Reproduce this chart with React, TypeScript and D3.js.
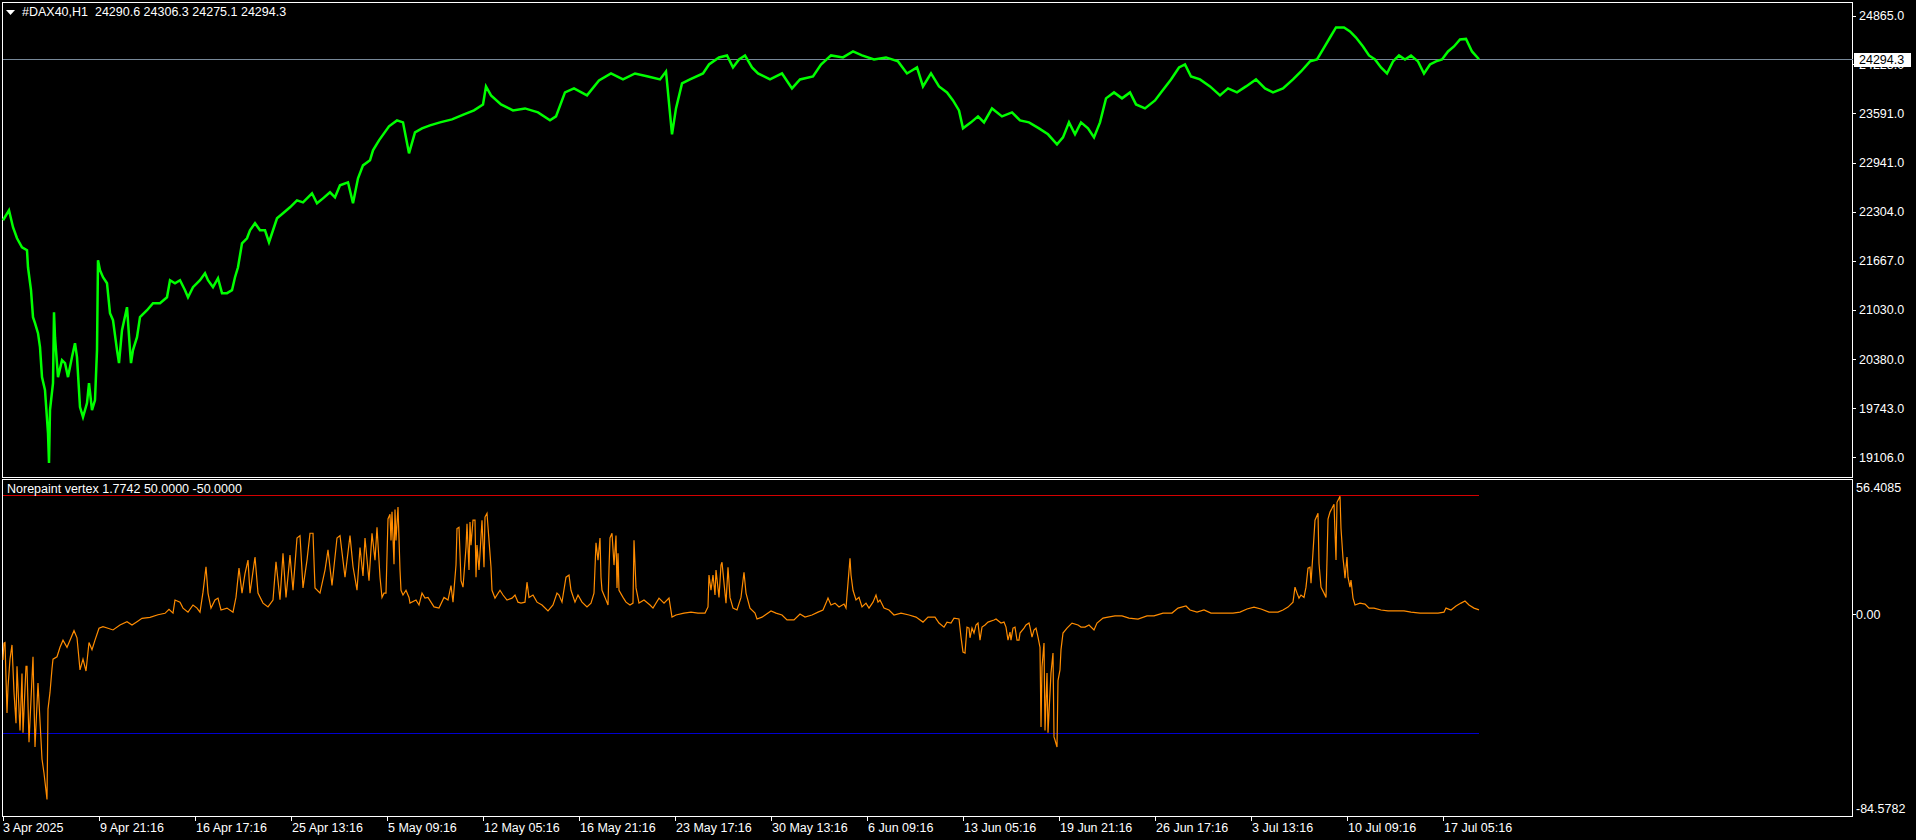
import React, { useEffect, useRef } from 'react'
import * as d3 from 'd3'

const W = 1916
const H = 840

const symbolTitle = '#DAX40,H1  24290.6 24306.3 24275.1 24294.3'
const oscTitle = 'Norepaint vertex 1.7742 50.0000 -50.0000'
const bidPrice = 24294.3

// [hour bar number, close]
const dax: [number, number][] = [
    [0, 22194], [6, 22324], [10, 22103], [14, 21959], [19, 21842], [24, 21803], [25, 21581], [28, 21282],
    [30, 20930], [32, 20852], [35, 20721], [37, 20539], [39, 20148], [42, 19979], [45, 19418], [46, 19027],
    [47, 19718], [50, 20070], [51, 20995], [52, 20669], [55, 20148], [59, 20370], [62, 20331], [65, 20148],
    [69, 20409], [72, 20591], [74, 20409], [77, 19757], [80, 19627], [84, 19809], [86, 20070], [89, 19718],
    [92, 19848], [94, 20500], [95, 21673], [97, 21542], [100, 21451], [104, 21373], [107, 20982], [110, 20891],
    [114, 20500], [116, 20331], [119, 20761], [124, 21060], [127, 20500], [128, 20331], [130, 20500], [134, 20669],
    [137, 20930], [144, 21021], [150, 21112], [157, 21112], [164, 21190], [167, 21412], [172, 21373], [177, 21412],
    [182, 21282], [185, 21190], [190, 21321], [197, 21412], [202, 21503], [205, 21412], [210, 21321], [215, 21438],
    [219, 21243], [224, 21243], [229, 21282], [232, 21451], [235, 21581], [239, 21894], [244, 21959], [247, 22064],
    [252, 22155], [257, 22064], [262, 22064], [266, 21907], [270, 22064], [274, 22220], [280, 22285], [287, 22363],
    [294, 22454], [300, 22428], [309, 22546], [314, 22415], [320, 22480], [327, 22559], [332, 22493], [337, 22650],
    [345, 22689], [350, 22415], [355, 22741], [360, 22910], [367, 22976], [370, 23106], [376, 23236], [386, 23419],
    [394, 23497], [400, 23471], [406, 23067], [412, 23340], [419, 23393], [427, 23432], [437, 23471], [449, 23510],
    [461, 23575], [471, 23627], [480, 23705], [483, 23940], [488, 23823], [498, 23705], [510, 23627], [522, 23653],
    [535, 23601], [547, 23497], [553, 23549], [562, 23862], [571, 23914], [584, 23823], [596, 24018], [608, 24109],
    [620, 24031], [632, 24109], [645, 24070], [657, 24031], [663, 24135], [669, 23315], [673, 23653], [679, 23979],
    [687, 24031], [700, 24109], [706, 24226], [716, 24318], [724, 24344], [730, 24187], [736, 24292], [742, 24344],
    [749, 24187], [755, 24109], [767, 24031], [779, 24109], [789, 23914], [797, 24031], [810, 24070], [818, 24226],
    [828, 24344], [840, 24318], [850, 24396], [859, 24344], [871, 24292], [883, 24318], [895, 24266], [904, 24109],
    [914, 24187], [920, 23940], [928, 24109], [936, 23940], [944, 23862], [950, 23757], [956, 23627], [960, 23393],
    [968, 23471], [975, 23549], [981, 23471], [989, 23653], [999, 23549], [1009, 23601], [1017, 23497], [1026, 23471],
    [1036, 23393], [1045, 23315], [1054, 23184], [1060, 23275], [1066, 23471], [1072, 23315], [1078, 23471], [1085, 23393],
    [1091, 23275], [1097, 23471], [1103, 23784], [1111, 23862], [1119, 23784], [1127, 23862], [1133, 23705], [1142, 23653],
    [1152, 23757], [1158, 23862], [1168, 24031], [1176, 24187], [1182, 24226], [1188, 24070], [1197, 24031], [1207, 23940],
    [1217, 23823], [1225, 23914], [1234, 23862], [1243, 23940], [1253, 24031], [1262, 23914], [1270, 23862], [1280, 23914],
    [1290, 24031], [1298, 24135], [1307, 24266], [1314, 24292], [1320, 24422], [1327, 24578], [1333, 24709], [1341, 24709],
    [1347, 24657], [1353, 24578], [1360, 24461], [1366, 24344], [1372, 24292], [1378, 24187], [1384, 24109], [1390, 24266],
    [1396, 24344], [1402, 24292], [1408, 24344], [1415, 24266], [1421, 24109], [1427, 24226], [1433, 24266], [1439, 24292],
    [1445, 24396], [1451, 24461], [1457, 24552], [1463, 24560], [1469, 24396], [1476, 24294.3]
]

// [hour bar number, oscillator value]
const vertex: [number, number][] = [
    [0, -19.3], [1, -12.2], [2, -12], [4, -41.6], [5, -30.7], [7, -19], [9, -13], [11, -33], [13, -46], [14, -22],
    [17, -49], [19, -25], [20, -50], [23, -22], [24, -22], [26, -54], [30, -18], [32, -56], [35, -29], [39, -61],
    [41, -67], [44, -78], [45, -40], [47, -33], [49, -23], [50, -19], [54, -18], [57, -14], [60, -11], [64, -14],
    [67, -11], [71, -7], [74, -10], [77, -23.5], [80, -19], [83, -24], [86, -12], [89, -15], [92, -11], [96, -6],
    [100, -5.3], [105, -6], [110, -6.7], [117, -4.6], [124, -3.2], [129, -4.6], [134, -3.2], [139, -1.8], [147, -1.4],
    [155, -0.3], [162, 0.3], [166, 2], [170, 0.4], [172, 5.9], [177, 5], [180, 2.5], [185, 0.8], [190, 3.8],
    [194, 2.5], [197, 0.8], [200, 9.2], [203, 19.9], [205, 8.8], [208, 2.5], [212, 5.9], [215, 6.7], [218, 1.7],
    [224, 2.5], [230, 0.8], [233, 7.1], [236, 19.3], [239, 8.8], [242, 17], [245, 22.7], [247, 8.8], [252, 24],
    [255, 8.8], [260, 4.6], [265, 3], [270, 5.9], [273, 22], [277, 6], [280, 25.6], [283, 7], [287, 24.8], [290, 10],
    [294, 32], [297, 33], [300, 11], [304, 22.7], [307, 34], [310, 34], [312, 11], [317, 8.8], [322, 18.5], [325, 27],
    [329, 12], [334, 32], [337, 33], [342, 15.5], [347, 33], [350, 20], [354, 10], [357, 28], [360, 16], [362, 32],
    [366, 14], [369, 34], [372, 22.7], [374, 36.5], [377, 15.5], [379, 7], [381, 8.8], [383, 8.8], [385, 40],
    [387, 42], [388, 31], [389, 43], [391, 21], [392, 44], [393, 31], [395, 45], [397, 18.5], [398, 10], [400, 8],
    [403, 10], [406, 7], [407, 4.6], [413, 5.9], [416, 3.8], [419, 8.8], [422, 6.7], [425, 7], [431, 3], [436, 2.5],
    [441, 7], [445, 5.9], [448, 12], [450, 5], [453, 20.6], [454, 36], [456, 36.5], [458, 14], [460, 11.3], [463, 28],
    [464, 38], [466, 18.5], [467, 38.7], [468, 29], [470, 39.5], [472, 39.5], [473, 15.5], [474, 29], [476, 18.5],
    [479, 39.5], [481, 19.7], [482, 40.8], [484, 42.4], [486, 31], [488, 19.7], [489, 10], [492, 6.7], [497, 10],
    [500, 8], [504, 5.9], [509, 6.7], [512, 8], [515, 5], [518, 4.6], [522, 5], [524, 13.4], [526, 7], [530, 8],
    [534, 5], [539, 3.8], [545, 1.3], [550, 3.8], [554, 8.8], [556, 8], [559, 5], [563, 15.5], [566, 16.4], [568, 10],
    [572, 5], [575, 8], [579, 5], [584, 3], [588, 4.6], [591, 8.8], [593, 30], [595, 22.7], [597, 32], [598, 15.5],
    [599, 10], [602, 7], [605, 3.8], [606, 19], [607, 32], [609, 34], [611, 20.6], [613, 33], [614, 11], [615, 25.6],
    [616, 10], [620, 7], [623, 5], [627, 3.8], [630, 4.6], [631, 31], [633, 11], [636, 4.6], [641, 5.9], [647, 3.8],
    [650, 2.5], [656, 6.7], [661, 4.6], [666, 6.7], [669, -1.3], [673, -0.4], [681, 0.4], [688, 0.8], [695, 0.4],
    [702, 0.4], [705, 3], [706, 16.4], [708, 10], [710, 16.4], [712, 8], [713, 18.5], [716, 7], [718, 20.6],
    [719, 21.8], [721, 13], [723, 4.6], [725, 19.7], [727, 7], [730, 2.5], [734, 1.7], [738, 7], [741, 17.6],
    [743, 8.8], [747, 2.5], [752, 0.4], [754, -2.1], [759, -1.3], [768, 1.3], [773, 0.4], [779, -0.4], [784, -2.5],
    [791, -2.5], [797, 0], [802, -1.3], [809, -0.4], [815, 0.8], [820, 1.7], [823, 4.6], [825, 6.7], [828, 3.8],
    [832, 4.6], [836, 3], [841, 4.2], [843, 2.5], [845, 13], [847, 23.5], [848, 16.4], [850, 10], [853, 5.9],
    [856, 7], [859, 3], [863, 4.6], [866, 2.5], [870, 5], [873, 8], [875, 5], [877, 5.9], [881, 2.5], [886, 1.7],
    [891, -0.4], [898, 0.4], [906, -0.4], [913, -1.3], [920, -3.4], [925, -1.3], [932, -1.3], [936, -3.8],
    [941, -5.5], [944, -3.4], [948, -3.8], [951, -1.7], [956, -2.1], [958, -9.7], [960, -16], [962, -16.4],
    [964, -5.5], [966, -5.9], [967, -10], [969, -5.9], [971, -8], [973, -4.6], [975, -3.8], [977, -11], [979, -5.5],
    [982, -4.6], [985, -3.4], [991, -2.5], [993, -2.1], [998, -3.8], [1001, -3.4], [1003, -5.5], [1005, -11],
    [1007, -7.6], [1008, -11], [1010, -5.9], [1012, -5.5], [1014, -11], [1016, -11], [1017, -8], [1021, -5.9],
    [1023, -4.6], [1026, -3.8], [1027, -5.5], [1029, -9.7], [1031, -6.7], [1033, -5.9], [1035, -9.7], [1037, -14],
    [1038, -47.5], [1039, -22.3], [1041, -12.2], [1042, -49], [1044, -24.8], [1045, -50], [1048, -24.8],
    [1050, -16.4], [1051, -51.7], [1052, -53], [1054, -56], [1055, -28], [1057, -23.5], [1058, -15], [1060, -8],
    [1064, -5.9], [1069, -3.8], [1075, -4.6], [1078, -5.5], [1082, -5.5], [1086, -4.6], [1091, -6.7], [1094, -3.8],
    [1100, -1.7], [1105, -1.3], [1112, -0.8], [1119, -0.8], [1126, -1.7], [1135, -2.1], [1144, -0.8], [1151, -0.8],
    [1160, 0.4], [1169, 0.4], [1175, 2.5], [1183, 3.4], [1187, 1.7], [1194, 0.8], [1201, 1.7], [1208, 0.4],
    [1219, 0.4], [1230, 0.4], [1237, 0.8], [1244, 2.1], [1251, 2.9], [1258, 2.1], [1266, 0.8], [1275, 0.8],
    [1280, 1.7], [1285, 2.9], [1290, 5], [1292, 11.3], [1294, 8.8], [1296, 6.7], [1298, 8], [1301, 7], [1303, 11.3],
    [1305, 19.3], [1307, 19.7], [1308, 13], [1310, 26], [1312, 39.5], [1315, 42.4], [1316, 21.4], [1318, 11.3],
    [1321, 8.8], [1323, 7], [1324, 22.7], [1325, 40], [1327, 42.9], [1329, 44.5], [1331, 46.2], [1332, 34.5],
    [1333, 22.7], [1334, 47], [1336, 48.7], [1337, 49.6], [1338, 36], [1340, 23.5], [1341, 19.7], [1342, 15.1],
    [1344, 24], [1345, 15.5], [1347, 11.3], [1348, 14.3], [1350, 6.7], [1352, 3.8], [1357, 4.6], [1362, 4.2],
    [1366, 2.5], [1371, 2.5], [1378, 1.7], [1385, 1.3], [1394, 1.3], [1401, 1.3], [1408, 0.8], [1417, 0.4],
    [1425, 0.4], [1435, 0.4], [1441, 0.8], [1443, 2.5], [1448, 1.7], [1453, 3.4], [1458, 4.6], [1462, 5.5],
    [1466, 3.8], [1471, 2.5], [1476, 1.7742]
]

const priceTicks = [24865, 24228, 23591, 22941, 22304, 21667, 21030, 20380, 19743, 19106]
const oscLevels = [50, -50]
const oscMin = -84.5782
const oscMax = 56.4085
const timeLabels = [
    '3 Apr 2025', '9 Apr 21:16', '16 Apr 17:16', '25 Apr 13:16', '5 May 09:16', '12 May 05:16',
    '16 May 21:16', '23 May 17:16', '30 May 13:16', '6 Jun 09:16', '13 Jun 05:16', '19 Jun 21:16',
    '26 Jun 17:16', '3 Jul 13:16', '10 Jul 09:16', '17 Jul 05:16'
]
const barsPerLabel = 96
const lastBar = 1476

const font = "'Liberation Sans', Arial, sans-serif"

const App: React.FC = () => {
    const ref = useRef<SVGSVGElement>(null)
    useEffect(() => {
        const svg = d3.select(ref.current)
        svg.selectAll('*').remove()

        const left = 2.5
        const right = 1852.5
        const mainTop = 2.5
        const mainBottom = 477.5
        const subTop = 479.5
        const subBottom = 816.5

        const x = d3.scaleLinear().domain([0, lastBar]).range([3, 1479])
        const y = d3.scaleLinear().domain([19106, 24865]).range([457, 15.5])
        const yo = d3.scaleLinear().domain([oscMin, oscMax]).range([815, 480])

        svg.append('rect').attr('width', W).attr('height', H).attr('fill', '#000')

        // frames
        const frame = svg.append('g').attr('stroke', '#fff').attr('shape-rendering', 'crispEdges')
        frame.append('rect').attr('x', left).attr('y', mainTop)
            .attr('width', right - left).attr('height', mainBottom - mainTop).attr('fill', 'none')
        frame.append('rect').attr('x', left).attr('y', subTop)
            .attr('width', right - left).attr('height', subBottom - subTop).attr('fill', 'none')

        // bid line
        svg.append('line')
            .attr('x1', 3).attr('x2', right)
            .attr('y1', Math.round(y(bidPrice)) + 0.5).attr('y2', Math.round(y(bidPrice)) + 0.5)
            .attr('stroke', '#778899').attr('shape-rendering', 'crispEdges')

        // price
        svg.append('path')
            .datum(dax)
            .attr('fill', 'none')
            .attr('stroke', '#00ff00')
            .attr('stroke-width', 2.5)
            .attr('d', d3.line<[number, number]>().x((d) => x(d[0])).y((d) => y(d[1])))

        // levels
        svg.append('g')
            .selectAll('line')
            .data(oscLevels)
            .join('line')
            .attr('x1', x(0)).attr('x2', x(lastBar))
            .attr('y1', (d) => Math.round(yo(d)) + 0.5)
            .attr('y2', (d) => Math.round(yo(d)) + 0.5)
            .attr('stroke', (d) => (d > 0 ? '#d40000' : '#0000d0'))
            .attr('shape-rendering', 'crispEdges')

        svg.append('path')
            .datum(vertex)
            .attr('fill', 'none')
            .attr('stroke', '#ff8c00')
            .attr('stroke-width', 1.2)
            .attr('d', d3.line<[number, number]>().x((d) => x(d[0])).y((d) => yo(d[1])))

        // titles
        svg.append('path').attr('d', 'M6,10 L15,10 L10.5,15 Z').attr('fill', '#fff')
        const txt = svg.append('g').attr('font-family', font).attr('font-size', 12.5).attr('fill', '#fff')
            .style('white-space', 'pre')
        txt.append('text').attr('x', 22).attr('y', 16).attr('xml:space', 'preserve').text(symbolTitle)
        txt.append('text').attr('x', 7).attr('y', 493).text(oscTitle)

        // price axis
        const pa = svg.append('g')
        pa.selectAll('line')
            .data(priceTicks)
            .join('line')
            .attr('x1', right).attr('x2', right + 3)
            .attr('y1', (d) => Math.round(y(d)) + 0.5).attr('y2', (d) => Math.round(y(d)) + 0.5)
            .attr('stroke', '#fff').attr('shape-rendering', 'crispEdges')
        pa.selectAll('text')
            .data(priceTicks)
            .join('text')
            .attr('x', 1859)
            .attr('y', (d) => y(d) + 4.5)
            .attr('font-family', font).attr('font-size', 12.5).attr('fill', '#fff')
            .text((d) => d.toFixed(1))

        // bid box
        const by = y(bidPrice)
        svg.append('rect').attr('x', 1854).attr('y', Math.round(by) - 6).attr('width', 57).attr('height', 14)
            .attr('fill', '#fff')
        svg.append('text').attr('x', 1859).attr('y', by + 5)
            .attr('font-family', font).attr('font-size', 12.5).attr('fill', '#000')
            .text(bidPrice.toFixed(1))

        // oscillator axis
        const oa = svg.append('g').attr('font-family', font).attr('font-size', 12.5).attr('fill', '#fff')
        oa.append('line').attr('x1', right).attr('x2', right + 3)
            .attr('y1', Math.round(yo(0)) + 0.5).attr('y2', Math.round(yo(0)) + 0.5)
            .attr('stroke', '#fff').attr('shape-rendering', 'crispEdges')
        oa.append('text').attr('x', 1856).attr('y', yo(oscMax) + 11.5).text(oscMax.toFixed(4))
        oa.append('text').attr('x', 1856).attr('y', yo(0) + 5).text('0.00')
        oa.append('text').attr('x', 1856).attr('y', yo(oscMin) - 2).text(oscMin.toFixed(4))

        // time axis
        const ta = svg.append('g')
        const tickBars = timeLabels.map((_, i) => i * barsPerLabel)
        ta.selectAll('line')
            .data(tickBars)
            .join('line')
            .attr('x1', (d) => Math.round(x(d)) + 0.5).attr('x2', (d) => Math.round(x(d)) + 0.5)
            .attr('y1', subBottom).attr('y2', subBottom + 4)
            .attr('stroke', '#fff').attr('shape-rendering', 'crispEdges')
        ta.selectAll('text')
            .data(timeLabels)
            .join('text')
            .attr('x', (_, i) => x(tickBars[i]) + (i === 0 ? 0 : 1))
            .attr('y', 832)
            .attr('font-family', font).attr('font-size', 12.5).attr('fill', '#fff')
            .text((d) => d)
    }, [])
    return (
        <div style={{ position: 'fixed', left: 0, top: 0, width: W, height: H, background: '#000' }}>
            <svg ref={ref} width={W} height={H} style={{ display: 'block' }} />
        </div>
    )
}

export default App
